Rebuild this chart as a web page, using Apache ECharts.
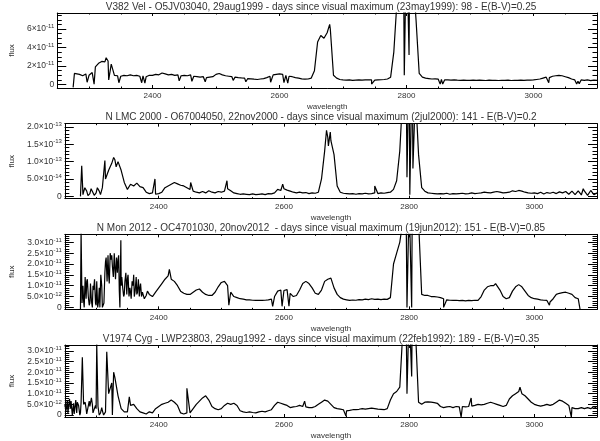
<!DOCTYPE html>
<html>
<head>
<meta charset="utf-8">
<script src="https://cdn.jsdelivr.net/npm/echarts@6.0.0/dist/echarts.min.js"></script>
<style>
  html, body { margin: 0; padding: 0; background: #fff; }
  #chart { width: 600px; height: 441px; }
</style>
</head>
<body>
<div id="chart"></div>
<script>
// flux arrays are sampled on a 5 A grid starting at 2250 A (171 values, null = no data)
const waveStart = 2250
const waveStep = 5

const titles = [
  'V382 Vel - O5JV03040, 29aug1999 - days since visual maximum (23may1999): 98 - E(B-V)=0.25',
  'N LMC 2000 - O67004050, 22nov2000 - days since visual maximum (2jul2000): 141 - E(B-V)=0.2',
  'N Mon 2012 - OC4701030, 20nov2012  - days since visual maximum (19jun2012): 151 - E(B-V)=0.85',
  'V1974 Cyg - LWP23803, 29aug1992 - days since visual maximum (22feb1992): 189 - E(B-V)=0.35'
]

// V382 Vel, flux in 1e-11
const velFlux = [
  null, null, null, null, null, -0.3, 1.0, 1.1, 0.95, 1.15, // 2250
  1.0, 1.3, 1.9, 2.3, 2.5, 2.45, 2.55, 2.2, 1.0, 0.95, // 2300
  0.9, 1.0, 0.95, 1.05, 0.95, 1.0, 0.9, 0.95, 0.85, 1.0, // 2350
  1.0, 1.1, 1.05, 1.25, 1.15, 1.05, 1.1, 1.0, 1.05, 0.95, // 2400
  1.0, 0.95, 1.05, 0.9, 0.85, 0.8, 0.85, 0.75, 0.8, 0.85, // 2450
  1.1, 1.2, 1.05, 0.95, 0.9, 0.85, 0.8, 0.75, 0.72, 0.7, // 2500
  0.65, 0.62, 0.58, 0.55, 0.6, 0.65, 0.75, 0.9, 1.05, 1.1, // 2550
  1.15, 1.1, 1.0, 0.9, 0.85, 0.75, 0.7, 0.62, 0.58, 0.6, // 2600
  0.7, 1.5, 4.6, 5.3, 5.0, 5.6, 6.0, 1.0, 0.7, 0.55, // 2650
  0.5, 0.48, 0.5, 0.45, 0.48, 0.5, 0.47, 0.5, 0.52, 0.5, // 2700
  0.48, 0.5, 0.52, 0.55, 0.6, 0.8, 3.5, 9, 14, 16, // 2750
  16, 14, 12, 7, 1.2, 0.8, 0.7, 0.65, 0.6, 0.62, // 2800
  0.58, 0.55, 0.5, 0.5, 0.48, 0.5, 0.47, 0.45, 0.48, 0.46, // 2850
  0.45, 0.47, 0.45, 0.48, 0.46, 0.44, 0.47, 0.45, 0.46, 0.44, // 2900
  0.46, 0.45, 0.47, 0.44, 0.46, 0.45, 0.47, 0.46, 0.48, 0.47, // 2950
  0.5, 0.55, 0.6, 0.7, 0.8, 0.75, 0.9, 0.95, 1.0, 0.95, // 3000
  0.85, 0.75, 0.6, 0.5, 0.35, 0.5, 0.45, 0.5, 0.42, 0.48, // 3050
  0.45 // 3100
]
// narrow lines, spikes and noise between grid points
const velLines = [
  [2277, 1.2], [2297, 0.25], [2308, 0.05], [2327, 2.9], [2331, 0.5], [2347, 0.2],
  [2383, 0.2], [2388, 0.15], [2442, 0.4], [2462, 0.35], [2483, 0.3], [2527, 0.45],
  [2547, 0.3], [2586, 0.25], [2607, 0.2], [2613, 0.15], [2679, 6.5], [2745, 0.05],
  [2796.5, 1.0], [2804, 3.2], [2853, 0.05], [2857, 0.05], [3024, 0.2], [3068, 0.05], [3072, 0.1]
]

// N LMC 2000, flux in 1e-13
const lmcFlux = [
  null, null, null, null, null, 0.0, 0.12, 0.15, 0.08, 0.18, // 2250
  0.1, 0.15, 0.25, 0.5, 0.75, 0.95, 1.05, 1.0, 0.75, 0.4, // 2300
  0.2, 0.35, 0.3, 0.38, 0.28, 0.25, 0.12, 0.08, 0.1, 0.06, // 2350
  0.08, 0.12, 0.25, 0.3, 0.35, 0.4, 0.36, 0.32, 0.3, 0.25, // 2400
  0.2, 0.15, 0.12, 0.1, 0.14, 0.1, 0.16, 0.12, 0.1, 0.14, // 2450
  0.12, 0.15, 0.22, 0.16, 0.1, 0.08, 0.06, 0.07, 0.06, 0.05, // 2500
  0.07, 0.05, 0.06, 0.07, 0.05, 0.08, 0.07, 0.1, 0.2, 0.17, // 2550
  0.22, 0.18, 0.15, 0.12, 0.1, 0.12, 0.1, 0.11, 0.08, 0.1, // 2600
  0.09, 0.12, 0.5, 1.3, 1.7, 1.6, 1.2, 0.3, 0.12, 0.09, // 2650
  0.08, 0.07, 0.08, 0.06, 0.08, 0.07, 0.09, 0.07, 0.08, 0.1, // 2700
  0.08, 0.1, 0.09, 0.11, 0.12, 0.2, 0.45, 1.3, 3, 4, // 2750
  4, 4, 3, 1.2, 0.25, 0.15, 0.1, 0.09, 0.08, 0.07, // 2800
  0.08, 0.07, 0.09, 0.06, 0.08, 0.07, 0.08, 0.09, 0.07, 0.08, // 2850
  0.1, 0.08, 0.09, 0.1, 0.12, 0.11, 0.1, 0.12, 0.14, 0.12, // 2900
  0.1, 0.11, 0.12, 0.16, 0.14, 0.17, 0.15, 0.12, 0.1, 0.09, // 2950
  0.1, 0.08, 0.12, 0.07, 0.11, 0.09, 0.12, 0.08, 0.13, 0.1, // 3000
  0.14, 0.06, 0.15, 0.05, 0.16, 0.04, 0.15, 0.03, 0.17, 0.05, // 3050
  0.1 // 3100
]
const lmcLines = [
  [2277, 0.88], [2279, 0.05], [2282, 0.25], [2287, 0.02], [2292, 0.22], [2297, 0.03],
  [2302, 0.25], [2307, 0.05], [2314, 1.03], [2328, 1.12], [2332, 0.85], [2394, 0.5],
  [2451, 0.4], [2509, 0.45], [2598, 0.35], [2668, 1.9], [2671, 1.45], [2674, 1.85],
  [2745, 0.3], [2796.5, 0.55], [2801, 0.05], [2803.5, 0.08], [2806, 0.8],
  [3062, 0.2], [3078, 0.22], [3088, 0.0], [3093, 0.2]
]

// N Mon 2012, flux in 1e-11
const monFlux = [
  null, null, null, null, null, -0.1, 0.3, 1.2, 0.2, 1.0, // 2250
  0.1, 0.9, 0.0, 2.1, 1.5, 2.4, 1.8, 2.2, 1.0, 0.6, // 2300
  1.3, 0.7, 1.5, 0.6, 0.9, 0.6, 0.55, 0.6, 0.5, 0.7, // 2350
  0.9, 1.1, 1.3, 1.45, 1.3, 1.2, 1.0, 0.75, 0.65, 0.6, // 2400
  0.6, 0.7, 0.8, 0.85, 0.7, 0.6, 0.55, 0.55, 0.7, 0.95, // 2450
  1.15, 1.2, 1.0, 0.7, 0.5, 0.45, 0.4, 0.38, 0.35, 0.35, // 2500
  0.33, 0.32, 0.33, 0.32, 0.33, 0.35, 0.38, 0.5, 0.75, 0.8, // 2550
  0.78, 0.82, 0.65, 0.5, 0.55, 0.8, 1.1, 1.2, 1.1, 0.9, // 2600
  0.65, 0.6, 0.8, 1.2, 1.3, 1.35, 0.9, 0.6, 0.45, 0.38, // 2650
  0.35, 0.32, 0.34, 0.33, 0.36, 0.35, 0.38, 0.36, 0.4, 0.37, // 2700
  0.38, 0.36, 0.38, 0.37, 0.45, 2.0, 2.5, 3.0, 4, 5, // 2750
  5, 5, 5, 4, 0.6, 0.55, 0.55, 0.5, 0.5, 0.48, // 2800
  0.45, 0.4, 0.35, 0.33, 0.32, 0.33, 0.31, 0.32, 0.3, 0.32, // 2850
  0.31, 0.33, 0.32, 0.5, 0.8, 0.95, 1.0, 1.0, 1.05, 0.8, // 2900
  0.5, 0.4, 0.45, 0.75, 0.95, 1.05, 0.95, 0.75, 0.55, 0.45, // 2950
  0.4, 0.38, 0.35, 0.33, 0.32, 0.25, 0.4, 0.6, 0.65, 0.68, // 3000
  0.7, 0.65, 0.6, 0.45, 0.4, null, null, null, null, null, // 3050
  null // 3100
]
const monLines = [
  [2276, 3.5], [2277.5, 0.2], [2279, 1.0], [2281, 0.0], [2282.5, 1.4], [2284, 0.4],
  [2286, 1.3], [2287.5, 0.5], [2289, 0.1], [2291, 1.1], [2292.5, 0.3], [2294, 0.0],
  [2296, 0.8], [2297.5, 1.3], [2299, 0.2], [2301, 1.2], [2302.5, 0.0], [2304, 0.3],
  [2306, 0.0], [2307.5, 1.5], [2309, 1.0], [2311, 0.0], [2312.5, 0.2], [2314, 1.6],
  [2316, 2.3], [2317.5, 1.2], [2319, 2.4], [2321, 1.1], [2322.5, 2.5], [2324, 2.2],
  [2326, 1.9], [2327.5, 1.4], [2329, 2.5], [2331, 1.3], [2332.5, 2.3], [2334, 1.6],
  [2336, 2.4], [2337, 0.8], [2338, 0.0], [2339.5, 3.1], [2341, 1.4], [2342.5, 0.9],
  [2344, 0.5], [2346, 1.2], [2347.5, 1.6], [2349, 0.6], [2351, 1.5], [2352.5, 0.5],
  [2354, 0.9], [2356, 0.4], [2357.5, 1.2], [2359, 1.0], [2361, 0.5], [2362.5, 0.8],
  [2364, 1.4], [2366, 0.7], [2367.5, 1.3], [2369, 0.5], [2371, 1.1], [2372.5, 0.5],
  [2374, 0.7], [2377, 0.4], [2382, 0.75], [2417, 1.75],
  [2512, 0.1], [2582, 0.05], [2597, 0.05], [2608, 0.05], [2796.5, 0.0], [2804, 0.0],
  [2855, 0.0], [2938, 1.1], [2976, 1.1], [3024, 0.1], [3073, -0.1]
]

// V1974 Cyg, flux in 1e-11
const cygFlux = [
  0.5, 0.1, 0.65, 0.05, 0.6, 0.1, 0.5, 0.05, 0.4, 0.1, // 2250
  0.3, 0.0, 0.2, 0.15, 1.0, 1.5, 1.75, 0.9, 0.3, 0.15, // 2300
  0.15, 0.45, 0.5, 0.3, 0.15, 0.1, 0.05, 0.15, 0.1, 0.3, // 2350
  0.4, 0.5, 0.55, 0.6, 0.7, 0.6, 0.45, 0.1, 0.05, 0.1, // 2400
  0.1, 0.3, 0.5, 0.65, 0.8, 0.9, 0.7, 0.4, 0.3, 0.25, // 2450
  0.3, 0.45, 0.55, 0.5, 0.55, 0.45, 0.2, 0.15, 0.12, 0.15, // 2500
  0.12, 0.1, 0.15, 0.18, 0.15, 0.2, 0.25, 0.45, 0.6, 0.55, // 2550
  0.5, 0.45, 0.35, 0.38, 0.4, 0.45, 0.4, 0.38, 0.35, 0.35, // 2600
  0.4, 0.5, 0.6, 0.7, 0.65, 0.5, 0.35, 0.3, 0.28, 0.25, // 2650
  0.2, 0.22, 0.25, 0.25, 0.27, 0.3, 0.28, 0.3, 0.32, 0.3, // 2700
  0.28, 0.27, 0.25, 0.3, 0.7, 1.0, 1.1, 1.3, 4, 5, // 2750
  5, 5, 4, 0.6, 0.5, 0.6, 0.62, 0.6, 0.58, 0.55, // 2800
  0.4, 0.35, 0.38, 0.4, 0.35, 0.4, 0.38, 0.4, 0.38, 0.4, // 2850
  0.42, 0.45, 0.5, 0.48, 0.5, 0.55, 0.6, 0.55, 0.5, 0.45, // 2900
  0.4, 0.45, 0.75, 0.9, 1.0, 1.1, 1.0, 0.9, 0.75, 0.6, // 2950
  0.5, 0.45, 0.42, 0.45, 0.5, 0.45, 0.5, 0.6, 0.7, 0.65, // 3000
  0.55, 0.45, 0.35, 0.3, 0.3, 0.35, 0.3, 0.35, 0.3, 0.4, // 3050
  0.3 // 3100
]
const cygLines = [
  [2252, 0.2], [2254, 0.7], [2257.5, 0.75], [2259, 0.3], [2262, 0.0], [2264, 0.55],
  [2267.5, 0.7], [2269, 0.1], [2272, 0.45], [2274, 0.0], [2276, 0.6], [2278, 2.7],
  [2282.5, 0.6], [2284, 0.3], [2287, 0.0], [2289, 0.65], [2292.5, 0.8], [2294, 0.5],
  [2297, 0.05], [2299, 0.45], [2301, 3.3], [2303, 0.4], [2307, 0.1], [2309, 0.35],
  [2312, 0.0], [2317, 2.95], [2326, 0.0], [2328, 2.0], [2353, 0.85], [2445, 1.25],
  [2633, 0.65], [2699, -0.05], [2796.5, 1.0], [2804, 1.8], [2883, -0.1], [2899, 0.8],
  [2977, 1.3], [3059, -0.1]
]

// y tick values (same units as the flux arrays) and their labels, exponent after '^'
const velTicks = [0, 2, 4, 6]
const velTickLabels = ['0', '2×10^-11', '4×10^-11', '6×10^-11']
const lmcTicks = [0, 0.5, 1.0, 1.5, 2.0]
const lmcTickLabels = ['0', '5.0×10^-14', '1.0×10^-13', '1.5×10^-13', '2.0×10^-13']
const monTicks = [0, 0.5, 1.0, 1.5, 2.0, 2.5, 3.0]
const monTickLabels = ['0', '5.0×10^-12', '1.0×10^-11', '1.5×10^-11', '2.0×10^-11', '2.5×10^-11', '3.0×10^-11']
const cygTicks = monTicks
const cygTickLabels = monTickLabels

const waveTicks = [2400, 2600, 2800, 3000]

const panels = [
  { flux: velFlux, lines: velLines, ticks: velTicks, labels: velTickLabels, minor: 0.5, yMin: -0.37, yMax: 7.73 },
  { flux: lmcFlux, lines: lmcLines, ticks: lmcTicks, labels: lmcTickLabels, minor: 0.1, yMin: -0.066, yMax: 2.09 },
  { flux: monFlux, lines: monLines, ticks: monTicks, labels: monTickLabels, minor: 0.1, yMin: -0.09, yMax: 3.37 },
  { flux: cygFlux, lines: cygLines, ticks: cygTicks, labels: cygTickLabels, minor: 0.1, yMin: -0.09, yMax: 3.27 }
]

const FONT = 'Liberation Sans, DejaVu Sans, sans-serif'
const INK = '#000'
const TEXT = '#333'

function spectrum (flux, lines) {
  const pts = []
  flux.forEach((f, i) => {
    if (f !== null) pts.push([waveStart + i * waveStep, f])
  })
  return pts.concat(lines).sort((a, b) => a[0] - b[0])
}

function minorValues (min, max, step) {
  const out = []
  for (let v = Math.ceil(min / step) * step; v <= max + 1e-9; v += step) {
    out.push(Math.round(v * 1000) / 1000)
  }
  return out
}

// '2×10^-11' -> rich text with a raised exponent
function richLabel (s) {
  const parts = s.split('^')
  return parts.length === 1 ? '{b|' + s + '}' : '{b|' + parts[0] + '}{e|' + parts[1] + '}'
}

const grids = []
const xAxes = []
const yAxes = []
const series = []
const titleList = []

panels.forEach((p, i) => {
  const top = 13 + i * 110.67
  grids.push({ left: 45, right: 3, top: top, height: 75 })
  titleList.push({
    text: titles[i],
    left: 321,
    textAlign: 'center',
    top: top - 11,
    padding: 0,
    textStyle: { fontSize: 10, fontWeight: 'normal', color: TEXT, fontFamily: FONT }
  })

  const xBase = {
    gridIndex: i,
    type: 'value',
    min: 2250,
    max: 3100,
    splitLine: { show: false }
  }
  // bottom axis with labels and major ticks
  xAxes.push(Object.assign({}, xBase, {
    position: 'bottom',
    axisLine: { show: true, onZero: false, lineStyle: { color: INK, width: 1 } },
    axisTick: { show: true, inside: true, length: 3, customValues: waveTicks, lineStyle: { color: INK } },
    axisLabel: {
      show: true,
      customValues: waveTicks,
      fontSize: 8,
      color: TEXT,
      fontFamily: FONT,
      margin: 4,
      formatter: (v) => String(v)
    },
    name: 'wavelength',
    nameLocation: 'middle',
    nameGap: 15,
    nameTextStyle: { fontSize: 8, color: TEXT, fontFamily: FONT }
  }))
  // bottom minor ticks
  xAxes.push(Object.assign({}, xBase, {
    position: 'bottom',
    interval: 50,
    axisLine: { show: false, onZero: false },
    axisTick: { show: true, inside: true, length: 1.5, lineStyle: { color: INK } },
    axisLabel: { show: false }
  }))
  // top axis (box)
  xAxes.push(Object.assign({}, xBase, {
    position: 'top',
    axisLine: { show: true, onZero: false, lineStyle: { color: INK, width: 1 } },
    axisTick: { show: true, inside: true, length: 3, customValues: waveTicks, lineStyle: { color: INK } },
    axisLabel: { show: false }
  }))
  xAxes.push(Object.assign({}, xBase, {
    position: 'top',
    interval: 50,
    axisLine: { show: false, onZero: false },
    axisTick: { show: true, inside: true, length: 1.5, lineStyle: { color: INK } },
    axisLabel: { show: false }
  }))

  const yBase = {
    gridIndex: i,
    type: 'value',
    min: p.yMin,
    max: p.yMax,
    splitLine: { show: false }
  }
  const minors = minorValues(p.yMin, p.yMax, p.minor)
  yAxes.push(Object.assign({}, yBase, {
    position: 'left',
    axisLine: { show: true, onZero: false, lineStyle: { color: INK, width: 1 } },
    axisTick: { show: true, inside: true, length: 9, customValues: p.ticks, lineStyle: { color: INK } },
    axisLabel: {
      show: true,
      customValues: p.ticks,
      color: TEXT,
      fontFamily: FONT,
      margin: 3,
      formatter: (v) => {
        const k = p.ticks.findIndex(t => Math.abs(t - v) < 1e-6)
        return k < 0 ? '' : richLabel(p.labels[k])
      },
      rich: {
        b: { fontSize: 8.5, lineHeight: 11, color: TEXT, fontFamily: FONT },
        e: { fontSize: 6, lineHeight: 11, verticalAlign: 'top', color: TEXT, fontFamily: FONT }
      }
    },
    name: 'flux',
    nameLocation: 'middle',
    nameGap: 35,
    nameRotate: 90,
    nameTextStyle: { fontSize: 8, color: TEXT, fontFamily: FONT }
  }))
  yAxes.push(Object.assign({}, yBase, {
    position: 'left',
    axisLine: { show: false, onZero: false },
    axisTick: { show: true, inside: true, length: 4.5, customValues: minors, lineStyle: { color: INK } },
    axisLabel: { show: false }
  }))
  yAxes.push(Object.assign({}, yBase, {
    position: 'right',
    axisLine: { show: true, onZero: false, lineStyle: { color: INK, width: 1 } },
    axisTick: { show: true, inside: true, length: 9, customValues: p.ticks, lineStyle: { color: INK } },
    axisLabel: { show: false }
  }))
  yAxes.push(Object.assign({}, yBase, {
    position: 'right',
    axisLine: { show: false, onZero: false },
    axisTick: { show: true, inside: true, length: 4.5, customValues: minors, lineStyle: { color: INK } },
    axisLabel: { show: false }
  }))

  series.push({
    type: 'line',
    xAxisIndex: i * 4,
    yAxisIndex: i * 4,
    data: spectrum(p.flux, p.lines),
    symbol: 'none',
    clip: true,
    lineStyle: { color: INK, width: 1.2 }
  })
})

const chart = echarts.init(document.getElementById('chart'))
chart.setOption({
  animation: false,
  backgroundColor: '#fff',
  title: titleList,
  grid: grids,
  xAxis: xAxes,
  yAxis: yAxes,
  series: series
})
</script>
</body>
</html>
